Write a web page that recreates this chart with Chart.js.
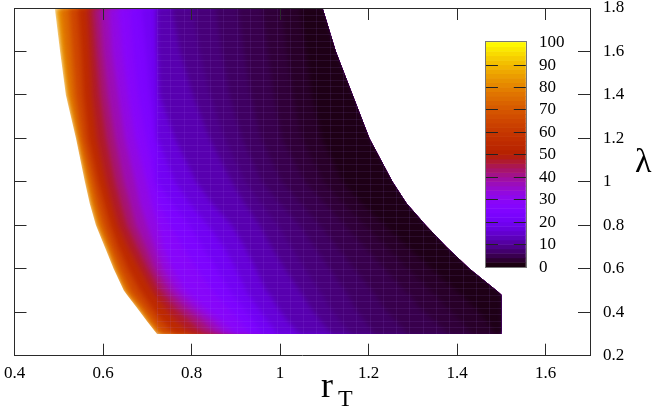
<!DOCTYPE html>
<html>
<head>
<meta charset="utf-8">
<style>
  html, body { margin: 0; padding: 0; background: #fff; }
  canvas { display: block; }
</style>
<script src="https://cdn.jsdelivr.net/npm/chart.js@4"></script>
</head>
<body>
<canvas id="heatChart" width="654" height="407"></canvas>
<script>
// tick labels
const rTTicks = [0.4, 0.6, 0.8, 1, 1.2, 1.4, 1.6];
const lambdaTicks = [0.2, 0.4, 0.6, 0.8, 1, 1.2, 1.4, 1.6, 1.8];
const colorbarTicks = [0, 10, 20, 30, 40, 50, 60, 70, 80, 90, 100];

// lambda rows, every rT array below has one value per row
const lambdaRows = [0.3, 0.36, 0.42, 0.48, 0.5, 0.6, 0.7, 0.8, 0.9, 1, 1.2, 1.4, 1.6, 1.8];

// outer edges of the data
const rTRightEdge = [1.5, 1.5, 1.5, 1.5, 1.489, 1.428, 1.376, 1.329, 1.286, 1.254, 1.202, 1.164, 1.126, 1.096];
const rTLeftEdge = [0.722, 0.699, 0.677, 0.654, 0.647, 0.624, 0.604, 0.584, 0.57, 0.559, 0.539, 0.516, 0.503, 0.491];

// rT where the colour value reaches each level
const rTLevel2 = [1.485, 1.467, 1.44, 1.408, 1.397, 1.342, 1.288, 1.236, 1.184, 1.141, 1.094, 1.072, 1.058, 1.044];
const rTLevel3 = [1.434, 1.408, 1.378, 1.35, 1.339, 1.289, 1.24, 1.191, 1.143, 1.098, 1.049, 1.029, 1.015, 1.002];
const rTLevel4 = [1.383, 1.349, 1.315, 1.293, 1.281, 1.236, 1.191, 1.146, 1.101, 1.056, 1.004, 0.986, 0.972, 0.959];
const rTLevel5 = [1.29, 1.262, 1.234, 1.215, 1.207, 1.168, 1.129, 1.09, 1.047, 1.004, 0.957, 0.934, 0.918, 0.905];
const rTLevel7 = [1.214, 1.191, 1.169, 1.153, 1.146, 1.112, 1.078, 1.044, 1, 0.959, 0.914, 0.886, 0.868, 0.855];
const rTLevel8 = [1.16, 1.135, 1.113, 1.095, 1.088, 1.056, 1.025, 0.995, 0.957, 0.921, 0.875, 0.842, 0.818, 0.803];
const rTLevel10 = [1.117, 1.092, 1.069, 1.051, 1.044, 1.011, 0.981, 0.954, 0.92, 0.891, 0.841, 0.803, 0.774, 0.756];
const rTLevel14 = [1.044, 1.017, 0.995, 0.977, 0.968, 0.945, 0.92, 0.891, 0.846, 0.81, 0.762, 0.728, 0.724, 0.723];
const rTLevel18 = [0.995, 0.972, 0.95, 0.929, 0.923, 0.9, 0.873, 0.837, 0.796, 0.762, 0.724, 0.723, 0.722, 0.719];
const rTLevel22 = [0.959, 0.941, 0.918, 0.893, 0.886, 0.857, 0.825, 0.796, 0.756, 0.723, 0.721, 0.706, 0.697, 0.688];
const rTLevel26 = [0.932, 0.909, 0.882, 0.855, 0.846, 0.812, 0.78, 0.751, 0.726, 0.717, 0.697, 0.679, 0.668, 0.661];
const rTLevel30 = [0.898, 0.868, 0.83, 0.796, 0.785, 0.756, 0.735, 0.724, 0.708, 0.697, 0.672, 0.656, 0.643, 0.634];
const rTLevel35 = [0.875, 0.846, 0.807, 0.776, 0.765, 0.735, 0.717, 0.699, 0.683, 0.672, 0.649, 0.634, 0.62, 0.613];
const rTLevel40 = [0.853, 0.823, 0.785, 0.756, 0.747, 0.717, 0.697, 0.674, 0.661, 0.647, 0.627, 0.611, 0.6, 0.593];
const rTLevel45 = [0.828, 0.796, 0.762, 0.737, 0.728, 0.701, 0.677, 0.654, 0.64, 0.627, 0.607, 0.593, 0.584, 0.577];
const rTLevel50 = [0.801, 0.765, 0.74, 0.717, 0.71, 0.683, 0.656, 0.634, 0.62, 0.607, 0.586, 0.575, 0.57, 0.564];
const rTLevel60 = [0.762, 0.733, 0.71, 0.69, 0.683, 0.656, 0.634, 0.616, 0.602, 0.588, 0.566, 0.555, 0.55, 0.543];
const rTLevel70 = [0.735, 0.713, 0.692, 0.668, 0.661, 0.638, 0.618, 0.6, 0.586, 0.575, 0.552, 0.537, 0.53, 0.523];
const rTLevel80 = [0.724, 0.701, 0.681, 0.656, 0.649, 0.627, 0.609, 0.588, 0.575, 0.564, 0.543, 0.523, 0.512, 0.503];

// coolest first, colour value of the band that starts at each line
const bandLines = [rTLevel2, rTLevel3, rTLevel4, rTLevel5, rTLevel7, rTLevel8, rTLevel10, rTLevel14, rTLevel18, rTLevel22,
    rTLevel26, rTLevel30, rTLevel35, rTLevel40, rTLevel45, rTLevel50, rTLevel60, rTLevel70, rTLevel80, rTLeftEdge];
const bandValues = [1.4, 2.5, 3.5, 4.8, 6.2, 7.8, 9.2, 12, 16, 20, 24, 28, 32.5, 37.5, 42.5, 47.5, 55, 65, 75, 85];

// gnuplot default palette
function paletteColor(value) {
    const t = value / 100;
    const r = Math.sqrt(t);
    const g = t * t * t;
    const b = Math.max(0, Math.sin(2 * Math.PI * t));
    return `rgb(${Math.round(r * 255)}, ${Math.round(g * 255)}, ${Math.round(b * 255)})`;
}

function toPoints(rTValues) {
    return rTValues.map((rT, i) => ({ x: rT, y: lambdaRows[i] }));
}

const datasets = [{
    data: toPoints(rTRightEdge),
    showLine: true,
    pointRadius: 0,
    borderWidth: 0,
    fill: false
}];
bandLines.forEach((line, i) => {
    datasets.push({
        data: toPoints(line),
        showLine: true,
        pointRadius: 0,
        borderWidth: 0,
        fill: { target: 0 },
        backgroundColor: paletteColor(bandValues[i])
    });
});

const serif = '"Liberation Serif", "Times New Roman", serif';
const axisColor = '#2a2a2a';

// soften the colour bands, keep the outer shape sharp
const softBandsPlugin = {
    id: 'softBands',
    beforeDatasetsDraw(chart) {
        const ctx = chart.ctx;
        const xs = chart.scales.x;
        const ys = chart.scales.y;
        ctx.save();
        ctx.beginPath();
        rTRightEdge.forEach((rT, i) => ctx.lineTo(xs.getPixelForValue(rT), ys.getPixelForValue(lambdaRows[i])));
        for (let i = rTLeftEdge.length - 1; i >= 0; i--) {
            ctx.lineTo(xs.getPixelForValue(rTLeftEdge[i]), ys.getPixelForValue(lambdaRows[i]));
        }
        ctx.closePath();
        ctx.clip();
        ctx.filter = 'blur(2.5px)';
    },
    afterDatasetsDraw(chart) {
        const ctx = chart.ctx;
        const xs = chart.scales.x;
        const ys = chart.scales.y;
        // faint cell seams of the coarser grid right of rT 0.72
        ctx.filter = 'none';
        ctx.lineWidth = 1;
        ctx.strokeStyle = 'rgba(175, 125, 255, 0.1)';
        const left = xs.getPixelForValue(0.722);
        ctx.beginPath();
        for (let row = 0; row <= 50; row++) {
            const y = Math.round(ys.getPixelForValue(0.3 + row * 0.03)) + 0.5;
            ctx.moveTo(left, y);
            ctx.lineTo(xs.getPixelForValue(1.5), y);
        }
        for (let col = 0; col <= 26; col++) {
            const x = Math.round(xs.getPixelForValue(0.722 + col * 0.03)) + 0.5;
            ctx.moveTo(x, ys.getPixelForValue(0.3));
            ctx.lineTo(x, ys.getPixelForValue(1.8));
        }
        ctx.stroke();
        ctx.restore();
    }
};

// colour box and the big axis letters
const extrasPlugin = {
    id: 'extras',
    afterDatasetsDraw(chart) {
        const ctx = chart.ctx;
        const xs = chart.scales.x;
        const cb = chart.scales.colorbar;
        const left = xs.getPixelForValue(1.465);
        const right = xs.getPixelForValue(1.555);

        for (let v = 0; v < 100; v += 2) {
            const top = cb.getPixelForValue(v + 2);
            const bottom = cb.getPixelForValue(v);
            ctx.fillStyle = paletteColor(v + 1);
            ctx.fillRect(left, top, right - left, bottom - top + 0.5);
        }
        ctx.strokeStyle = '#777';
        ctx.lineWidth = 1;
        ctx.strokeRect(Math.round(left) - 0.5, Math.round(cb.getPixelForValue(100)) - 0.5,
            Math.round(right - left) + 1, Math.round(cb.getPixelForValue(0) - cb.getPixelForValue(100)) + 1);

        ctx.fillStyle = '#000';
        ctx.font = '17px ' + serif;
        ctx.textAlign = 'left';
        ctx.textBaseline = 'middle';
        ctx.strokeStyle = '#222';
        colorbarTicks.forEach(v => {
            const y = Math.round(cb.getPixelForValue(v)) + 0.5;
            if (v > 0 && v < 100) {
                ctx.beginPath();
                ctx.moveTo(left, y);
                ctx.lineTo(left + 12, y);
                ctx.moveTo(right - 12, y);
                ctx.lineTo(right, y);
                ctx.stroke();
            }
            ctx.fillText(String(v), 539, y + 0.5);
        });

        ctx.textBaseline = 'alphabetic';
        ctx.font = '34px ' + serif;
        ctx.fillText('λ', 635, 172);
        ctx.font = '36px ' + serif;
        ctx.fillText('r', 321, 397);
        ctx.font = '24px ' + serif;
        ctx.fillText('T', 338, 406);
    }
};

function fixedSize(size) {
    return scale => {
        if (scale.isHorizontal()) {
            scale.height = size;
        } else {
            scale.width = size;
        }
        // no room for label overhang, the frame sits at a fixed place
        scale.paddingLeft = scale.paddingRight = scale.paddingTop = scale.paddingBottom = 0;
    };
}

function frameAxis(position, min, max, tickValues, size, showLabels, padding) {
    return {
        type: 'linear',
        position: position,
        min: min,
        max: max,
        afterBuildTicks: scale => { scale.ticks = tickValues.map(v => ({ value: v })); },
        afterFit: fixedSize(size),
        grid: { drawOnChartArea: false, tickLength: -12, tickColor: axisColor, tickWidth: 1, z: 2 },
        border: { color: axisColor, width: 1, z: 2 },
        ticks: {
            display: showLabels,
            color: '#000',
            padding: padding,
            maxRotation: 0,
            autoSkip: false,
            font: { family: serif, size: 17 },
            callback: v => String(v)
        }
    };
}

new Chart(document.getElementById('heatChart'), {
    type: 'scatter',
    data: { datasets: datasets },
    plugins: [softBandsPlugin, extrasPlugin],
    options: {
        responsive: false,
        animation: false,
        indexAxis: 'y',
        layout: { padding: 0 },
        plugins: { legend: { display: false }, tooltip: { enabled: false }, title: { display: false } },
        scales: {
            x: frameAxis('bottom', 0.4, 1.7, rTTicks, 51.3, true, 20),
            xTop: frameAxis('top', 0.4, 1.7, rTTicks, 8, false, 0),
            y: frameAxis('right', 0.2, 1.8, lambdaTicks, 64, true, 25),
            yLeft: frameAxis('left', 0.2, 1.8, lambdaTicks, 14.5, false, 0),
            colorbar: { type: 'linear', display: false, position: 'left', min: -39.64, max: 115.2 }
        }
    }
});
</script>
</body>
</html>
